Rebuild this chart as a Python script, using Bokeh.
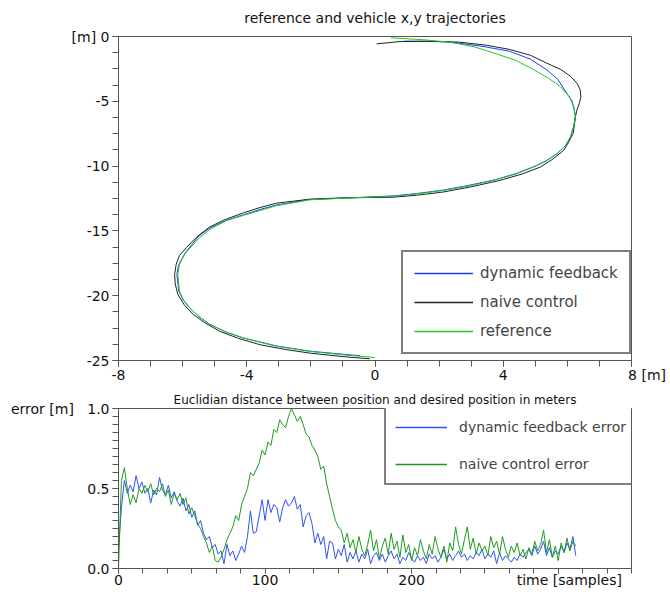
from bokeh.plotting import figure
from bokeh.models import FixedTicker, Legend
from bokeh.layouts import column
from bokeh.embed import file_html
from bokeh.resources import INLINE

# ---------------- data: trajectories (x, y in meters) ----------------
ref_x = [0.5, 1.5, 2.34, 3.1, 3.7, 4.4, 4.95, 5.4, 5.78, 6.05, 6.2, 6.25, 6.2, 6.1, 5.95, 5.68, 5.35, 4.95,
         4.4, 3.7, 2.9, 2.13, 1.3, 0.57, -1.0, -2.03, -3.07, -3.59, -4.1, -4.63, -5.1, -5.47, -5.94, -6.1,
         -6.15, -6.1, -5.98, -5.78, -5.5, -5.16, -4.65, -4.1, -3.07, -2.03, -1.0, 0.0]
ref_y = [-0.1, -0.25, -0.44, -0.8, -1.27, -1.85, -2.56, -3.2, -3.86, -4.6, -5.41, -6.19, -6.9, -7.74, -8.4,
         -9.03, -9.6, -10.07, -10.6, -11.1, -11.55, -11.88, -12.15, -12.32, -12.48, -12.6, -13.05, -13.43,
         -13.8, -14.2, -14.8, -15.5, -16.8, -17.6, -18.35, -19.64, -20.3, -20.94, -21.6, -22.2, -22.8,
         -23.27, -23.9, -24.3, -24.56, -24.77]

naive_x = [0.05, 0.78, 1.7, 2.65, 3.5, 4.2, 4.85, 5.35, 5.8, 6.1, 6.3, 6.4, 6.42, 6.38, 6.3, 6.25, 6.22,
           6.18, 6.05, 5.89, 5.55, 5.16, 4.6, 3.9, 3.0, 2.13, 1.3, 0.57, -1.0, -2.03, -3.07, -3.59, -4.1,
           -4.7, -5.16, -5.55, -5.88, -6.1, -6.2, -6.25, -6.23, -6.15, -5.95, -5.67, -5.3, -4.84, -4.25,
           -3.59, -2.8, -2.03, -1.0, -0.16]
naive_y = [-0.57, -0.39, -0.37, -0.44, -0.68, -1.0, -1.45, -2.05, -2.55, -3.08, -3.6, -4.11, -4.63, -5.1,
           -5.67, -6.19, -6.8, -7.48, -8.1, -8.77, -9.45, -10.07, -10.6, -11.1, -11.6, -12.0, -12.25, -12.4,
           -12.45, -12.55, -12.86, -13.2, -13.6, -14.15, -14.7, -15.45, -16.28, -16.9, -17.57, -18.35,
           -19.1, -19.9, -20.7, -21.45, -22.1, -22.75, -23.3, -23.78, -24.15, -24.43, -24.7, -24.87]

dyn_x = [0.9, 1.5, 2.34, 3.4, 4.2, 4.85, 5.35, 5.7, 5.98, 6.15, 6.2, 6.25, 6.2, 6.1, 5.95, 5.7, 5.35, 4.95,
         4.4, 3.75, 2.9, 2.13, 1.3, 0.57, -1.0, -2.03, -3.07, -3.59, -4.1, -4.65, -5.2, -5.5, -5.92, -6.12,
         -6.18, -6.12, -5.98, -5.78, -5.5, -5.16, -4.65, -4.1, -3.07, -2.03, -1.0, -0.47]
dyn_y = [-0.36, -0.36, -0.42, -0.78, -1.14, -1.75, -2.56, -3.3, -4.37, -5.0, -5.53, -6.19, -6.9, -7.72,
         -8.4, -9.0, -9.58, -10.05, -10.58, -11.05, -11.5, -11.85, -12.12, -12.3, -12.47, -12.58, -13.0,
         -13.35, -13.75, -14.2, -14.85, -15.4, -16.7, -17.6, -18.35, -19.64, -20.35, -20.94, -21.6, -22.2,
         -22.8, -23.27, -23.88, -24.28, -24.52, -24.63]

# ---------------- data: errors (one value every 2 samples) ----------------
dyn_err = [0.13, 0.38, 0.55, 0.47, 0.52, 0.48, 0.58, 0.50, 0.54, 0.47, 0.50, 0.41, 0.49, 0.46, 0.57, 0.49,
           0.46, 0.52, 0.44, 0.48, 0.42, 0.39, 0.44, 0.36, 0.40, 0.32, 0.36, 0.27, 0.30, 0.22, 0.18, 0.20,
           0.13, 0.15, 0.09, 0.11, 0.03, 0.15, 0.08, 0.11, 0.05, 0.09, 0.14, 0.10, 0.20, 0.36, 0.22, 0.23,
           0.33, 0.43, 0.30, 0.43, 0.35, 0.40, 0.38, 0.29, 0.38, 0.43, 0.39, 0.41, 0.45, 0.37, 0.40, 0.26,
           0.33, 0.35, 0.28, 0.16, 0.22, 0.15, 0.20, 0.06, 0.17, 0.16, 0.06, 0.12, 0.08, 0.15, 0.04, 0.10,
           0.06, 0.11, 0.04, 0.09, 0.06, 0.12, 0.03, 0.08, 0.10, 0.05, 0.09, 0.04, 0.08, 0.11, 0.06, 0.09,
           0.03, 0.07, 0.05, 0.10, 0.06, 0.04, 0.08, 0.05, 0.07, 0.03, 0.09, 0.06, 0.08, 0.04, 0.07, 0.12,
           0.06, 0.09, 0.05, 0.08, 0.11, 0.07, 0.09, 0.05, 0.08, 0.06, 0.10, 0.08, 0.12, 0.06, 0.09, 0.07,
           0.11, 0.03, 0.10, 0.05, 0.08, 0.06, 0.04, 0.07, 0.05, 0.09, 0.07, 0.10, 0.12, 0.08, 0.14, 0.09,
           0.12, 0.17, 0.08, 0.13, 0.07, 0.11, 0.09, 0.14, 0.10, 0.16, 0.12, 0.20, 0.08]
naive_err = [0.00, 0.55, 0.63, 0.50, 0.40, 0.46, 0.41, 0.50, 0.47, 0.52, 0.48, 0.53, 0.46, 0.50, 0.48, 0.53,
             0.45, 0.49, 0.40, 0.47, 0.43, 0.47, 0.40, 0.44, 0.34, 0.38, 0.33, 0.28, 0.25, 0.20, 0.16, 0.10,
             0.14, 0.05, 0.04, 0.07, 0.12, 0.18, 0.22, 0.26, 0.33, 0.30, 0.40, 0.45, 0.50, 0.60, 0.58, 0.62,
             0.66, 0.74, 0.71, 0.79, 0.77, 0.87, 0.85, 0.93, 0.90, 0.88, 0.95, 1.00, 0.96, 0.92, 0.95, 0.90,
             0.84, 0.82, 0.77, 0.74, 0.70, 0.62, 0.64, 0.53, 0.45, 0.37, 0.30, 0.26, 0.24, 0.16, 0.22, 0.13,
             0.18, 0.10, 0.20, 0.12, 0.08, 0.15, 0.24, 0.11, 0.18, 0.06, 0.14, 0.19, 0.09, 0.22, 0.12, 0.17,
             0.07, 0.21, 0.10, 0.15, 0.05, 0.13, 0.08, 0.18, 0.11, 0.06, 0.15, 0.09, 0.20, 0.12, 0.07, 0.14,
             0.04, 0.16, 0.11, 0.26, 0.15, 0.09, 0.18, 0.26, 0.12, 0.19, 0.09, 0.16, 0.11, 0.14, 0.08, 0.20,
             0.13, 0.17, 0.09, 0.20, 0.12, 0.07, 0.14, 0.10, 0.16, 0.08, 0.12, 0.06, 0.13, 0.09, 0.17, 0.11,
             0.15, 0.24, 0.10, 0.18, 0.07, 0.14, 0.05, 0.16, 0.10, 0.19, 0.11, 0.17, 0.14]
dyn_samples = list(range(0, 2 * len(dyn_err), 2))
naive_samples = list(range(0, 2 * len(naive_err), 2))

# tick values and their labels
traj_xticks = [-8, -4, 0, 4, 8]
traj_yticks = [0, -5, -10, -15, -20, -25]
err_xticks = [0, 100, 200, 300]
err_yticks = [0, 0.5, 1.0]
NB = "\u00a0"
traj_xlabels = {-8: "-8", -4: "-4", 0: "0", 4: "4", 8: NB * 7 + "8 [m]"}
traj_ylabels = {0: "[m] 0", -5: "-5", -10: "-10", -15: "-15", -20: "-20", -25: "-25"}
err_xlabels = {0: "0", 100: "100", 200: "200", 300: NB * 5 + "time [samples]"}
err_ylabels = {0: "0.0", 0.5: "0.5", 1.0: "error [m]" + NB * 3 + "1.0"}

# ---------------- styling helpers ----------------
FONT = "DejaVu Sans"
BLUE_T, BLACK_T, GREEN_T = "#1f3cff", "#222222", "#1ec81e"
BLUE_B, GREEN_B = "#2f52f5", "#1f9a1f"
NAN = float("nan")


def style_axes(p):
    for ax in (p.xaxis[0], p.yaxis[0]):
        ax.axis_line_color = "#555555"
        ax.major_tick_line_color = "#555555"
        ax.minor_tick_line_color = "#555555"
        ax.major_tick_in = 0
        ax.minor_tick_in = 0
        ax.major_tick_out = 6
        ax.minor_tick_out = 6
        ax.major_label_text_font = FONT
        ax.major_label_text_font_size = "14px"
        ax.major_label_text_color = "#111111"
        ax.major_label_standoff = 3
    p.xgrid.visible = False
    p.ygrid.visible = False
    p.outline_line_color = "#555555"
    p.outline_line_width = 1
    p.title.text_font = FONT
    p.title.text_font_style = "normal"
    p.title.align = "center"
    p.title.text_color = "#111111"


# ---------------- top: trajectories ----------------
p1 = figure(width=666, height=388, x_range=(-8, 8), y_range=(-25, 0),
            output_backend="svg", toolbar_location=None,
            min_border_left=118, min_border_right=35, min_border_top=36, min_border_bottom=28,
            title="reference and vehicle x,y trajectories")
style_axes(p1)
p1.title.text_font_size = "14px"
p1.title.vertical_align = "top"
p1.title.standoff = 18
p1.xaxis.major_label_standoff = 0
p1.xaxis.ticker = FixedTicker(ticks=traj_xticks, minor_ticks=list(range(-8, 9)))
p1.yaxis.ticker = FixedTicker(ticks=traj_yticks, minor_ticks=[-1.25 * k for k in range(21)])
p1.xaxis.major_label_overrides = traj_xlabels
p1.yaxis.major_label_overrides = traj_ylabels

r_dyn = p1.line(dyn_x, dyn_y, color=BLUE_T, line_width=1)
r_naive = p1.line(naive_x, naive_y, color=BLACK_T, line_width=1)
r_ref = p1.line(ref_x, ref_y, color=GREEN_T, line_width=1)
# legend swatches (slightly thicker, as in the original legend)
l_dyn = p1.line([NAN], [NAN], color=BLUE_T, line_width=1.6)
l_naive = p1.line([NAN], [NAN], color=BLACK_T, line_width=1.6)
l_ref = p1.line([NAN], [NAN], color=GREEN_T, line_width=1.6)

leg1 = Legend(items=[("dynamic feedback", [l_dyn]), ("naive control", [l_naive]), ("reference", [l_ref])],
              location=(283, 6), padding=11, spacing=9, glyph_width=59, glyph_height=20,
              label_standoff=7, label_text_font=FONT, label_text_font_size="15px",
              border_line_color="black", border_line_width=2, background_fill_alpha=1)
p1.add_layout(leg1)

# ---------------- bottom: errors ----------------
p2 = figure(width=666, height=203, x_range=(0, 350), y_range=(0, 1.0),
            output_backend="svg", toolbar_location=None,
            min_border_left=118, min_border_right=35, min_border_top=19, min_border_bottom=23,
            title="Euclidian distance between position and desired position in meters")
style_axes(p2)
p2.title.text_font_size = "12px"
p2.title.standoff = 4
p2.xaxis.major_tick_out = 5
p2.xaxis.minor_tick_out = 5
p2.xaxis.major_label_standoff = -2
p2.xaxis.ticker = FixedTicker(ticks=err_xticks, minor_ticks=[100 * k / 6 for k in range(22)])
p2.yaxis.ticker = FixedTicker(ticks=err_yticks, minor_ticks=[0.05 * k for k in range(21)])
p2.xaxis.major_label_overrides = err_xlabels
p2.yaxis.major_label_overrides = err_ylabels

e_dyn = p2.line(dyn_samples, dyn_err, color=BLUE_B, line_width=1)
e_naive = p2.line(naive_samples, naive_err, color=GREEN_B, line_width=1)
le_dyn = p2.line([NAN], [NAN], color=BLUE_B, line_width=1.6)
le_naive = p2.line([NAN], [NAN], color=GREEN_B, line_width=1.6)

leg2 = Legend(items=[("dynamic feedback error", [le_dyn]), ("naive control error", [le_naive])],
              location=(266, 83), padding=9, spacing=17, glyph_width=52, glyph_height=20,
              label_standoff=12, label_text_font=FONT, label_text_font_size="14px",
              border_line_color="black", border_line_width=2, background_fill_alpha=1)
p2.add_layout(leg2)

layout = column(p1, p2, spacing=0)
open("out.html", "w").write(file_html(layout, INLINE))
